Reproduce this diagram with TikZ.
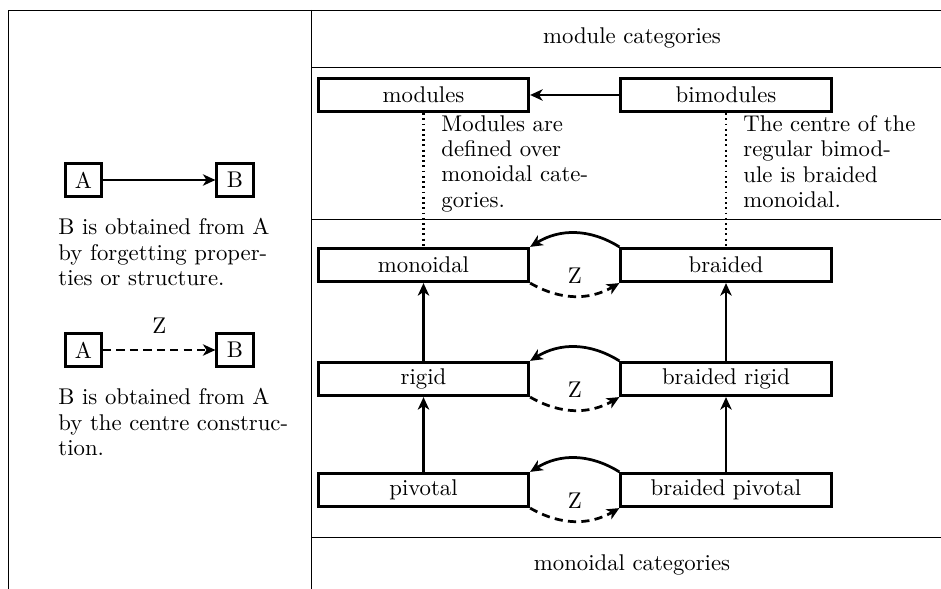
\documentclass[tikz,border=0pt]{standalone}
\usetikzlibrary{arrows.meta}
\begin{document}
\begin{tikzpicture}[x=0.4394pt,y=-0.4394pt,
  tline/.style={line width=0.4pt},
  catbox/.style={draw,line width=1.2pt,minimum width=92.5pt,minimum height=14.7pt,inner sep=0pt},
  legbox/.style={draw,line width=1.2pt,minimum width=16pt,minimum height=14.7pt,inner sep=0pt},
  forget/.style={line width=1.2pt,-{Stealth[length=5.5pt,width=5pt,inset=1.6pt]}},
  centre/.style={forget,dash pattern=on 3.6pt off 2.3pt},
  link/.style={line width=0.9pt,dash pattern=on 0.8pt off 1.5pt},
  note/.style={anchor=north west,inner sep=0pt,align=left,font=\fontsize{10pt}{11.1pt}\selectfont},
  zlab/.style={above=1.6pt,inner sep=3.33pt}
]
\useasboundingbox (0,0) rectangle (941,589);
% table frame
\draw[tline] (8,589) -- (8,10) -- (941,10);
\draw[tline] (311,10) -- (311,589);
\draw[tline] (311,67) -- (941,67);
\draw[tline] (311,219) -- (941,219);
\draw[tline] (311,537) -- (941,537);
% headers
\node (mc) at (632,38) {module categories};
\node (moc) at (632,565) {monoidal categories};
% boxes
\node[catbox] (modules) at (423.5,95) {modules};
\node[catbox] (bimodules) at (726,95) {bimodules};
\node[catbox] (monoidal) at (423.5,265) {monoidal};
\node[catbox] (braided) at (726,265) {braided};
\node[catbox] (rigid) at (423.5,379) {rigid};
\node[catbox] (brigid) at (726,379) {braided rigid};
\node[catbox] (pivotal) at (423.5,490) {pivotal};
\node[catbox] (bpivotal) at (726,490) {braided pivotal};
% notes
\node[note,text width=79.7pt] (n1) at (441,115) {Modules are defined over monoidal categories.};
\node[note,text width=79.7pt] (n2) at (743,115) {The centre of the regular bimodule is braided monoidal.};
% connectors
\draw[forget] (bimodules) -- (modules);
\draw[link] (modules) -- (monoidal);
\draw[link] (bimodules) -- (braided);
\draw[forget] (rigid) -- (monoidal);
\draw[forget] (pivotal) -- (rigid);
\draw[forget] (brigid) -- (braided);
\draw[forget] (bpivotal) -- (brigid);
\draw[forget] (braided.north west) to[bend right=32] (monoidal.north east);
\draw[centre] (monoidal.south east) to[bend right=30] node[zlab] (z1) {Z} (braided.south west);
\draw[forget] (brigid.north west) to[bend right=32] (rigid.north east);
\draw[centre] (rigid.south east) to[bend right=30] node[zlab] (z2) {Z} (brigid.south west);
\draw[forget] (bpivotal.north west) to[bend right=32] (pivotal.north east);
\draw[centre] (pivotal.south east) to[bend right=30] node[zlab] (z3) {Z} (bpivotal.south west);
% legend
\node[legbox] (a1) at (83.5,180) {A};
\node[legbox] (b1) at (235,180) {B};
\draw[forget] (a1) -- (b1);
\node[note,text width=102.4pt] (t1) at (58,218) {B is obtained from A by forgetting properties or structure.};
\node[legbox] (a2) at (83.5,350) {A};
\node[legbox] (b2) at (235,350) {B};
\draw[centre] (a2) -- node[zlab,above=1.8pt] (z0) {Z} (b2);
\node[note,text width=102.4pt] (t2) at (58,388) {B is obtained from A by the centre construction.};
\end{tikzpicture}
\end{document}
